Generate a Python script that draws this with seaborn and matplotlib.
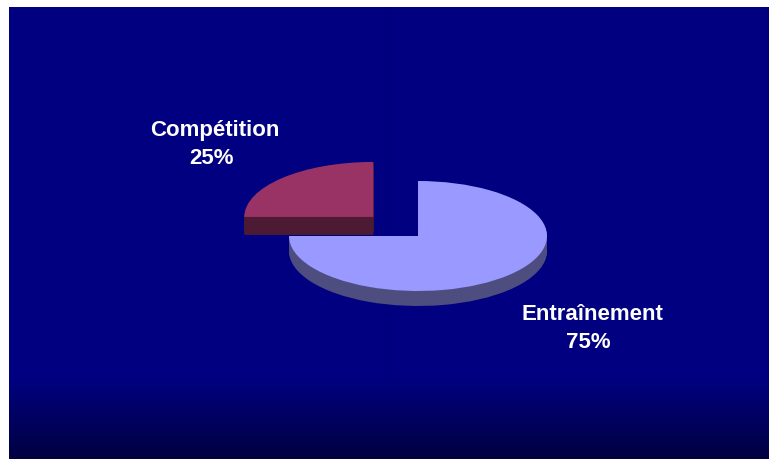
import matplotlib
matplotlib.use("Agg")
import matplotlib.pyplot as plt
import numpy as np
import seaborn as sns

# Share of training time by activity
categories = ["Entraînement", "Compétition"]
shares = [75, 25]
top_colors = ["#9999FF", "#993366"]
side_colors = ["#4D4D80", "#4D1A33"]
side_px = [15, 18]

W, H = 769, 459
RX, RY = 129, 55
CX, CY = 418, 236

sns.set_theme(style="white")
plt.rcParams["font.family"] = ["Liberation Sans", "DejaVu Sans"]

fig = plt.figure(figsize=(W / 100, H / 100), dpi=100, facecolor="white")
ax = fig.add_axes([0, 0, 1, 1])


def px(x, y):
    """Convert canvas pixels to the pie's unit-radius coordinates."""
    return (x - CX) / RX, (CY - y) / RY


def draw_pie(colors, dy=0.0):
    ax.pie(shares, colors=colors, startangle=90, counterclock=False,
           explode=[0, 0.49], radius=1, center=(0, -dy / RY),
           wedgeprops={"linewidth": 0, "antialiased": True})


def label(x, baseline, text):
    lx, ly = px(x, baseline)
    ax.text(lx, ly, text, ha="center", va="baseline", color="white",
            fontsize=16, fontweight="bold")


# Slide background: flat navy that darkens towards the bottom edge
ramp = sns.blend_palette(["#000080", "#000040"], n_colors=2)
flat_rows = 378
rows = H - 7
shade = np.zeros((rows, 1, 3))
for i in range(rows):
    t = max(0, i + 7 - flat_rows) / (H - flat_rows)
    shade[i, 0] = (1 - t) * np.array(ramp[0]) + t * np.array(ramp[-1])
x0, y0 = px(9, 7)
x1, y1 = px(W, H)

# Extruded rims first, one wedge at a time, then the top faces
for idx in range(len(shares)):
    for step in np.arange(side_px[idx], 0, -1.0):
        cols = ["none"] * len(shares)
        cols[idx] = side_colors[idx]
        draw_pie(cols, dy=step)
draw_pie(top_colors)

ax.imshow(shade, extent=(x0, x1, y1, y0), aspect="auto", zorder=0, origin="upper")

label(592, 320, categories[0])
label(588, 348, f"{shares[0]}%")
label(215, 136, categories[1])
label(211, 164, f"{shares[1]}%")

xa, ya = px(0, H)
xb, yb = px(W, 0)
ax.set_aspect("auto")
ax.set_xlim(xa, xb)
ax.set_ylim(ya, yb)
ax.axis("off")

fig.savefig("out.png", dpi=100, facecolor="white")
